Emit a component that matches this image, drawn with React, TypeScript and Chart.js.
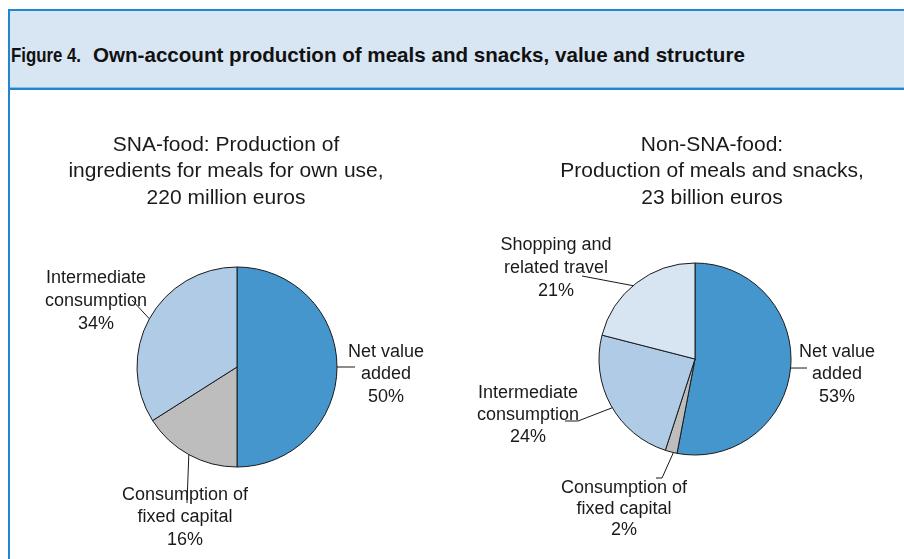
import React, { useEffect, useRef } from "react";
import { Chart, registerables } from "chart.js";

Chart.register(...registerables);

// ---------- data ----------
const leftCategories = ["Net value added", "Consumption of fixed capital", "Intermediate consumption"];
const leftValues = [50, 16, 34];
const leftLabelLines = [["Net value", "added"], ["Consumption of", "fixed capital"], ["Intermediate", "consumption"]];
const leftTitle = ["SNA-food: Production of", "ingredients for meals for own use,", "220 million euros"];

const rightCategories = [
  "Net value added",
  "Consumption of fixed capital",
  "Intermediate consumption",
  "Shopping and related travel",
];
const rightValues = [53, 2, 24, 21];
const rightLabelLines = [
  ["Net value", "added"],
  ["Consumption of", "fixed capital"],
  ["Intermediate", "consumption"],
  ["Shopping and", "related travel"],
];
const rightTitle = ["Non-SNA-food:", "Production of meals and snacks,", "23 billion euros"];

const headerNumber = "Figure 4.";
const headerText = "Own-account production of meals and snacks, value and structure";

// ---------- styles ----------
const leftColors = ["#4496CC", "#BDBDBD", "#AFCBE6"];
const rightColors = ["#4496CC", "#BDBDBD", "#AFCBE6", "#D7E5F3"];
const FONT = '"Liberation Sans", Arial, sans-serif';
const INK = "#1a1a1a";

type Item = { x: number; y: number; gap: number; angle: number; path: number[][] };

const leftLayout = {
  pad: { left: 137, right: 567, top: 267, bottom: 92 },
  radius: 100,
  titleX: 226,
  titleY: 145,
  titleGap: 26.5,
  items: [
    { x: 386, y: 352, gap: 22.5, angle: 90, path: [[355, 367]] },
    { x: 185, y: 495, gap: 22.5, angle: 208.8, path: [[187, 503]] },
    { x: 96, y: 278, gap: 23, angle: 298.8, path: [[132, 300]] },
  ] as Item[],
};

const rightLayout = {
  pad: { left: 599, right: 113, top: 263, bottom: 104 },
  radius: 96,
  titleX: 712,
  titleY: 145,
  titleGap: 26.5,
  items: [
    { x: 837, y: 352, gap: 22.5, angle: 95.4, path: [[807, 368]] },
    { x: 624, y: 488, gap: 21, angle: 193, path: [[662, 478], [656, 478]] },
    { x: 528, y: 393, gap: 22, angle: 239.5, path: [[578, 421], [565, 421]] },
    { x: 556, y: 245, gap: 23, angle: 319.8, path: [[582, 276]] },
  ] as Item[],
};

const labelPlugin = {
  id: "pieLabels",
  afterDraw(chart: any, _args: any, opts: any) {
    const ctx = chart.ctx as CanvasRenderingContext2D;
    const arc = chart.getDatasetMeta(0).data[0];
    const { x: cx, y: cy, outerRadius: r } = arc.getProps(["x", "y", "outerRadius"], true);
    ctx.save();
    ctx.fillStyle = INK;
    ctx.textAlign = "center";
    ctx.textBaseline = "middle";
    ctx.font = `21px ${FONT}`;
    (opts.title as string[]).forEach((t, i) => ctx.fillText(t, opts.titleX, opts.titleY + i * opts.titleGap));
    ctx.font = `18px ${FONT}`;
    (opts.items as Item[]).forEach((it, i) => {
      const lines = [...opts.labels[i], `${opts.values[i]}%`];
      lines.forEach((l: string, j: number) => ctx.fillText(l, it.x, it.y + j * it.gap));
      const a = ((it.angle - 90) * Math.PI) / 180;
      ctx.beginPath();
      ctx.moveTo(cx + r * Math.cos(a), cy + r * Math.sin(a));
      it.path.forEach(([px, py]) => ctx.lineTo(px, py));
      ctx.strokeStyle = INK;
      ctx.lineWidth = 1;
      ctx.stroke();
    });
    ctx.restore();
  },
};

function PieCanvas(props: {
  categories: string[];
  values: number[];
  colors: string[];
  labels: string[][];
  title: string[];
  layout: any;
}) {
  const ref = useRef<HTMLCanvasElement | null>(null);
  useEffect(() => {
    if (!ref.current) return;
    const { layout } = props;
    const chart = new Chart(ref.current, {
      type: "pie",
      data: {
        labels: props.categories,
        datasets: [
          {
            data: props.values,
            backgroundColor: props.colors,
            borderColor: INK,
            borderWidth: 1,
          },
        ],
      },
      options: {
        responsive: false,
        animation: false,
        events: [],
        radius: layout.radius,
        layout: { padding: layout.pad },
        plugins: {
          legend: { display: false },
          tooltip: { enabled: false },
          title: { display: false },
          pieLabels: {
            title: props.title,
            titleX: layout.titleX,
            titleY: layout.titleY,
            titleGap: layout.titleGap,
            items: layout.items,
            labels: props.labels,
            values: props.values,
          },
        } as any,
      } as any,
      plugins: [labelPlugin],
    });
    return () => chart.destroy();
  }, []);
  return (
    <canvas
      ref={ref}
      width={904}
      height={559}
      style={{ position: "absolute", left: 0, top: 0, width: 904, height: 559 }}
    />
  );
}

const headerStyle: React.CSSProperties = {
  position: "absolute",
  top: 42,
  font: `bold 21px ${FONT}`,
  color: "#111",
  whiteSpace: "nowrap",
  lineHeight: "26px",
  transformOrigin: "0 50%",
};

export default function App() {
  return (
    <div
      style={{
        position: "absolute",
        left: 0,
        top: 0,
        width: 904,
        height: 559,
        background: "#ffffff",
        overflow: "hidden",
      }}
    >
      <div
        style={{
          position: "absolute",
          left: 8,
          top: 9,
          width: 896,
          height: 550,
          borderLeft: "2px solid #1F86CF",
          borderTop: "2px solid #1F86CF",
          boxSizing: "border-box",
        }}
      />
      <div style={{ position: "absolute", left: 10, top: 11, width: 894, height: 76, background: "#D8E5F2" }} />
      <div style={{ position: "absolute", left: 10, top: 87, width: 894, height: 1, background: "#8DBBE3" }} />
      <div style={{ position: "absolute", left: 10, top: 88, width: 894, height: 2, background: "#1F86CF" }} />
      <div style={{ ...headerStyle, left: 11, transform: "scaleX(0.8)" }}>{headerNumber}</div>
      <div style={{ ...headerStyle, left: 93, transform: "scaleX(0.98)" }}>{headerText}</div>
      <PieCanvas
        categories={leftCategories}
        values={leftValues}
        colors={leftColors}
        labels={leftLabelLines}
        title={leftTitle}
        layout={leftLayout}
      />
      <PieCanvas
        categories={rightCategories}
        values={rightValues}
        colors={rightColors}
        labels={rightLabelLines}
        title={rightTitle}
        layout={rightLayout}
      />
    </div>
  );
}
